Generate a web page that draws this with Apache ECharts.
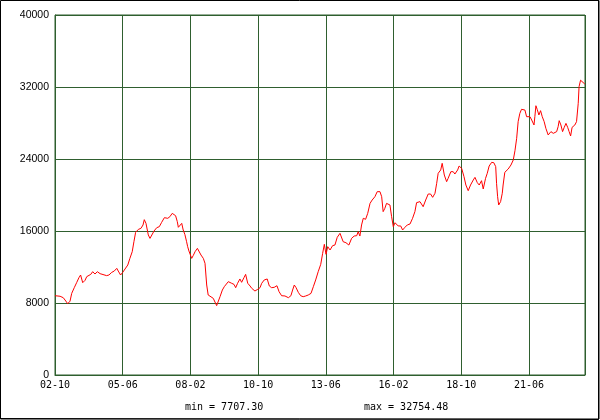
<!DOCTYPE html>
<html>
<head>
<meta charset="utf-8">
<script src="https://cdn.jsdelivr.net/npm/echarts@6/dist/echarts.min.js"></script>
<style>
html,body{margin:0;padding:0;background:#fff;}
#chart{width:600px;height:420px;}
</style>
</head>
<body>
<div id="chart"></div>
<script>
// x tick labels (every 32 months starting 2002-10)
var tickLabels = ['02-10','05-06','08-02','10-10','13-06','16-02','18-10','21-06'];
// months elapsed since 2002-10
var months = [0,2.4,3.9,5.1,6.0,7.1,7.9,9.1,10.3,11.3,12.1,13.1,14.2,15.0,15.7,16.9,17.8,18.9,20.0,21.3,22.1,24.4,25.5,26.8,28.0,29.2,29.9,31.0,32.0,33.1,34.4,35.4,36.5,37.3,38.1,39.4,40.6,41.6,42.2,43.0,44.1,44.9,45.7,46.8,48.1,49.3,50.4,51.7,52.5,53.3,54.3,55.4,56.2,57.0,57.8,58.3,59.1,59.9,60.6,61.4,62.2,62.7,63.3,63.8,64.6,65.3,66.2,67.3,68.2,69.0,70.1,70.9,71.7,72.4,73.2,74.8,75.6,76.4,77.2,78.0,79.1,80.0,80.8,81.9,83.5,84.6,85.4,86.3,87.4,88.2,89.3,90.1,91.1,92.2,93.0,94.5,95.8,96.9,97.7,98.9,100.3,101.3,102.4,103.6,104.9,105.9,107.1,108.7,110.3,111.5,112.3,113.1,113.9,115.0,116.1,117.3,118.5,119.7,121.0,122.1,123.2,124.4,125.6,126.5,127.3,128.1,128.9,129.6,130.0,131.2,132.3,133.4,134.7,135.5,136.2,137.5,138.9,140.2,141.4,142.6,143.3,144.1,144.9,145.7,146.8,147.8,148.9,149.9,151.2,152.3,153.6,154.4,155.1,155.9,156.7,157.5,158.3,159.1,159.9,160.7,161.5,162.2,163.4,164.3,165.4,166.5,167.8,169.0,170.1,170.9,172.5,173.3,174.0,175.2,176.4,177.5,178.5,179.6,180.4,181.1,182.3,183.0,184.0,185.1,185.8,187.1,188.2,189.0,190.3,191.0,192.2,193.3,194.2,195.3,196.4,197.7,198.5,199.6,200.5,201.6,202.4,203.5,204.3,205.2,206.4,207.4,208.3,208.7,209.2,209.7,210.6,211.4,211.8,212.6,213.4,214.2,215.5,216.6,217.4,218.2,218.9,219.7,220.5,221.3,222.1,222.9,223.7,224.5,225.3,226.4,226.8,227.3,227.9,228.7,229.5,230.3,231.2,232.0,233.1,234.4,235.5,237.1,237.8,238.3,239.1,239.9,240.7,241.5,242.3,243.0,243.7,244.4,245.7,246.5,247.3,247.7,248.4,249.3,250.4];
// index values
var values = [8810,8750,8590,8220,7920,8200,9070,9700,10300,10810,11110,10260,10520,10930,10740,11180,11480,11220,11480,11260,11040,11040,11110,11400,11550,11850,11550,11110,11400,11780,12220,12960,13700,14810,15850,16180,16290,16670,17260,16850,15560,15180,15370,16000,16370,16480,16960,17480,17700,17410,17590,17960,18070,17700,17040,16410,16370,16850,16110,15600,14810,14260,13780,13700,12960,13260,13700,14070,14000,13330,12960,12410,10000,8890,8700,8520,8330,7707.30,7850,8700,9440,9810,9810,10370,10190,10070,9700,10190,10670,10300,10810,11180,10190,9890,9630,9330,9520,9700,10190,10560,10670,9890,9700,9740,9920,9260,8810,8780,8590,8810,9440,10000,9720,9180,8810,8700,8780,8890,9070,9810,10560,11480,12300,13520,14520,13410,14260,14070,13890,14370,14440,15300,15740,15740,14810,14700,14440,15190,15440,15480,15930,15440,16670,17410,17300,17960,19070,19440,19810,20370,20370,19810,18150,18520,19070,19250,18890,17590,16480,16920,16850,16560,16560,16110,16410,16670,16780,17410,18150,19150,19260,19260,18700,19440,20110,20110,19740,20190,21300,22410,22780,23520,22220,21480,21850,22590,22590,22330,22780,23220,22960,22040,21110,20480,21110,21670,21960,21370,21110,21590,20670,21850,22410,23220,23630,23590,23150,21300,19810,18890,19260,20190,21110,22520,22590,22890,23330,23890,24920,26300,28150,29070,29520,29330,29440,28700,28890,28700,28330,27780,28700,29920,29520,28890,29370,28700,28150,27410,26670,27040,26850,27040,27590,28260,27780,27040,27520,27960,27520,27040,26560,27520,27780,28150,30190,32040,32754.48,32700,32330];
var yTicks = [0,8000,16000,24000,32000,40000];

var data = months.map(function(m,i){return [m, values[i]];});
var minV = Math.min.apply(null, values);
var maxV = Math.max.apply(null, values);
var green = '#2f5f2f';

var chart = echarts.init(document.getElementById('chart'), null, {renderer:'canvas'});
chart.setOption({
  animation:false,
  backgroundColor:'#ffffff',
  grid:{left:55, top:15, width:530, height:360, show:true, borderColor:green, borderWidth:1, backgroundColor:'transparent'},
  xAxis:{
    type:'value', min:0, max:250.5, interval:32,
    axisLine:{show:true, lineStyle:{color:green, width:1}},
    axisTick:{show:false},
    splitLine:{show:true, lineStyle:{color:green, width:1}},
    axisLabel:{
      color:'#000', fontFamily:'DejaVu Sans Mono', fontSize:10, margin:5,
      showMaxLabel:false,
      formatter:function(v){
        var k = Math.round(v/32);
        if (Math.abs(v - k*32) > 0.01) return '';
        return tickLabels[k] || '';
      }
    }
  },
  yAxis:{
    type:'value', min:yTicks[0], max:yTicks[yTicks.length-1], interval:yTicks[1]-yTicks[0],
    axisLine:{show:true, lineStyle:{color:green, width:1}},
    axisTick:{show:false},
    splitLine:{show:true, lineStyle:{color:green, width:1}},
    axisLabel:{color:'#000', fontFamily:'Liberation Sans', fontSize:10.5, margin:6,
      formatter:function(v){ return String(Math.round(v)); }}
  },
  series:[{
    type:'line', data:data, showSymbol:false, symbol:'none',
    lineStyle:{color:'#ff0000', width:1}, itemStyle:{color:'#ff0000'},
    silent:true
  }],
  graphic:[
    {type:'rect', shape:{x:0.5, y:0.5, width:598.5, height:418.5}, style:{fill:null, stroke:'#000', lineWidth:1}, silent:true},
    {type:'polyline', shape:{points:[[598.5,0],[598.5,419.5],[0,418.5]]}, style:{fill:null, stroke:'#000', lineWidth:1}, silent:true},
    {type:'text', left:185, top:402, style:{text:'min = ' + minV.toFixed(2), fill:'#000', font:'10px "DejaVu Sans Mono"'}},
    {type:'text', left:364, top:402, style:{text:'max = ' + maxV.toFixed(2), fill:'#000', font:'10px "DejaVu Sans Mono"'}}
  ]
});
</script>
</body>
</html>
